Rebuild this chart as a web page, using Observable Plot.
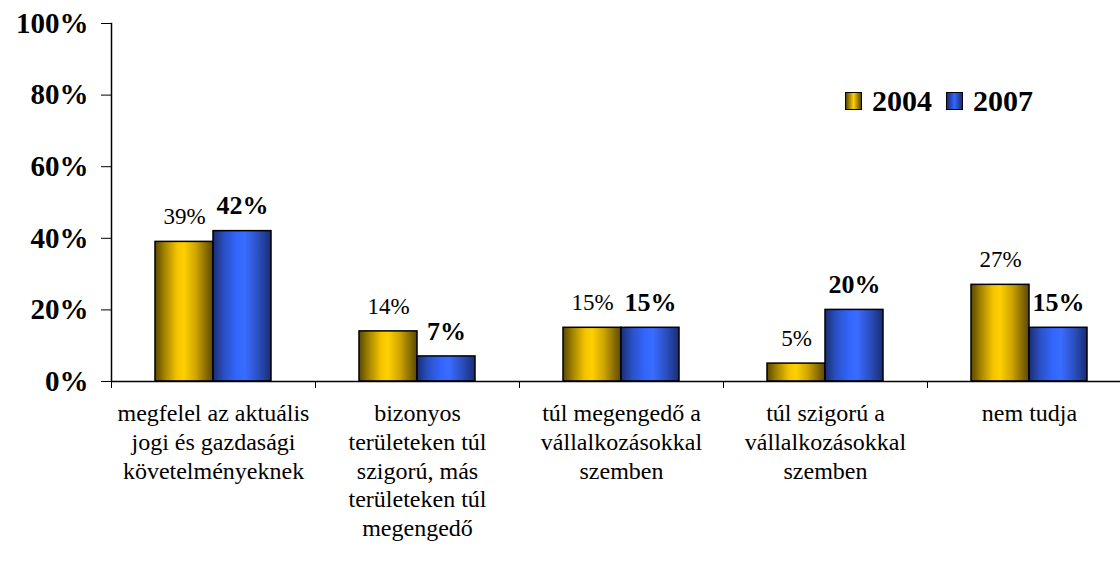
<!DOCTYPE html>
<html>
<head>
<meta charset="utf-8">
<script src="https://cdn.jsdelivr.net/npm/d3@7"></script>
<script src="https://cdn.jsdelivr.net/npm/@observablehq/plot@0.6"></script>
<style>
  html, body { margin: 0; padding: 0; background: #fff; }
  #wrap { position: relative; width: 1120px; height: 566px; font-family: "Liberation Serif", "Times New Roman", Times, "DejaVu Serif", serif; }
  #chart svg, #chart svg text { font-family: "Liberation Serif", "Times New Roman", Times, "DejaVu Serif", serif !important; }
  #legend { position: absolute; left: 845px; top: 84px; display: flex; align-items: center; font-weight: bold; font-size: 30px; line-height: 34px; color: #000; }
  #legend .sw { width: 17px; height: 18px; border: 1px solid #000; box-sizing: border-box; margin-right: 10px; }
  #legend .item { display: flex; align-items: center; margin-right: 14px; }
</style>
</head>
<body>
<svg width="0" height="0" style="position:absolute">
  <defs>
    <linearGradient id="g2004" x1="0" x2="1" y1="0" y2="0">
      <stop offset="0" stop-color="#5a4800"/>
      <stop offset="0.18" stop-color="#a88800"/>
      <stop offset="0.38" stop-color="#f5c400"/>
      <stop offset="0.5" stop-color="#ffd000"/>
      <stop offset="0.7" stop-color="#d0a600"/>
      <stop offset="1" stop-color="#5a4800"/>
    </linearGradient>
    <linearGradient id="g2007" x1="0" x2="1" y1="0" y2="0">
      <stop offset="0" stop-color="#1a2d70"/>
      <stop offset="0.2" stop-color="#2a52c8"/>
      <stop offset="0.42" stop-color="#3366ff"/>
      <stop offset="0.55" stop-color="#3a6cff"/>
      <stop offset="0.78" stop-color="#2a4fc0"/>
      <stop offset="1" stop-color="#1a2d70"/>
    </linearGradient>
  </defs>
</svg>
<div id="wrap">
  <div id="chart"></div>
  <div id="legend">
    <div class="item"><div class="sw" style="background:linear-gradient(to right,#5a4800,#ffd000 50%,#5a4800)"></div><span>2004</span></div>
    <div class="item"><div class="sw" style="background:linear-gradient(to right,#1a2d70,#3366ff 50%,#1a2d70)"></div><span>2007</span></div>
  </div>
</div>
<script>
const categories = [
  "megfelel az aktuális jogi és gazdasági követelményeknek",
  "bizonyos területeken túl szigorú, más területeken túl megengedő",
  "túl megengedő a vállalkozásokkal szemben",
  "túl szigorú a vállalkozásokkal szemben",
  "nem tudja"
];
const tickLabels = [
  "megfelel az aktuális\njogi és gazdasági\nkövetelményeknek",
  "bizonyos\nterületeken túl\nszigorú, más\nterületeken túl\nmegengedő",
  "túl megengedő a\nvállalkozásokkal\nszemben",
  "túl szigorú a\nvállalkozásokkal\nszemben",
  "nem tudja"
];
const years = ["2004", "2007"];
const values2004 = [39, 14, 15, 5, 27];
const values2007 = [42, 7, 15, 20, 15];
const yTicks = [0, 20, 40, 60, 80, 100];

const data = [];
categories.forEach((c, i) => {
  data.push({cat: c, year: "2004", value: values2004[i]});
  data.push({cat: c, year: "2007", value: values2007[i]});
});
const d2004 = data.filter(d => d.year === "2004");
const d2007 = data.filter(d => d.year === "2007");

const chart = Plot.plot({
  width: 1120,
  height: 566,
  marginTop: 23,
  marginBottom: 185,
  marginLeft: 111,
  marginRight: 0,
  style: {fontFamily: "Liberation Serif, Times New Roman, serif", color: "#000", background: "#fff"},
  fx: {domain: categories, padding: 0, range: [111, 1131]},
  x: {domain: years, paddingInner: 0, paddingOuter: 0.73, axis: null},
  y: {domain: [0, 100]},
  marks: [
    Plot.barY(d2004, {fx: "cat", x: "year", y: "value", fill: "url(#g2004)", stroke: "#000", strokeWidth: 1.5}),
    Plot.barY(d2007, {fx: "cat", x: "year", y: "value", fill: "url(#g2007)", stroke: "#000", strokeWidth: 1.5}),
    Plot.text(d2004, {fx: "cat", x: "year", y: "value", text: d => d.value + "%", dy: -25, fontSize: 23, lineAnchor: "middle"}),
    Plot.text(d2007, {fx: "cat", x: "year", y: "value", text: d => d.value + "%", dy: -25, fontSize: 26, fontWeight: "bold", lineAnchor: "middle"}),
    Plot.ruleY([0], {stroke: "#000", strokeWidth: 1.5}),
    Plot.frame({anchor: "left", facetAnchor: "left", stroke: "#000", strokeWidth: 1.5}),
    Plot.axisY({ticks: yTicks, tickFormat: d => d + "%", tickSize: 10, tickPadding: 13, fontSize: 29, fontWeight: "bold", label: null, stroke: "#000"}),
    Plot.axisFx({anchor: "bottom", tickSize: 0, tickPadding: 19, tickFormat: d => tickLabels[categories.indexOf(d)], fontSize: 24, lineHeight: 1.2, lineAnchor: "top", label: null}),
    Plot.axisFx({anchor: "bottom", tickSize: 7, dx: -102, tickFormat: () => "", label: null, stroke: "#000"})
  ]
});
document.getElementById("chart").appendChild(chart);
</script>
</body>
</html>
